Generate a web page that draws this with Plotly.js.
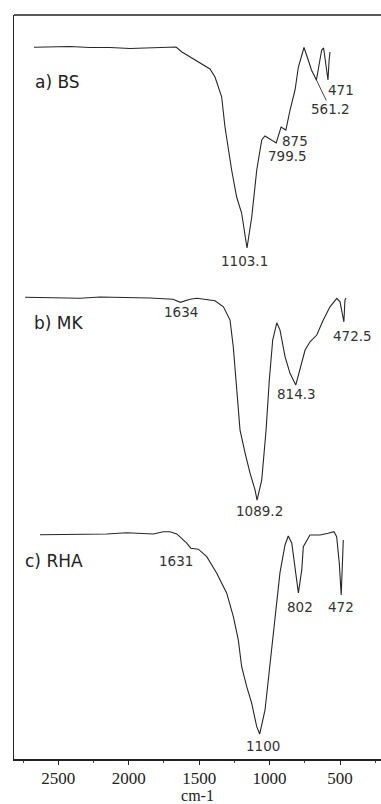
<!DOCTYPE html>
<html>
<head>
<meta charset="utf-8">
<script src="https://cdn.plot.ly/plotly-3.0.1.min.js"></script>
<style>
  html, body { margin: 0; padding: 0; background: #fff; overflow: hidden; }
  #chart { width: 381px; height: 804px; }
</style>
</head>
<body>
<div id="chart"></div>
<script>
// FTIR transmittance spectra (wavenumber in cm-1, transmittance in %)
// a) BS
const bsWavenumber = [2766, 2641, 2485, 2329, 2173, 2016, 1899, 1782, 1704, 1657, 1611, 1509, 1431, 1392, 1353, 1301, 1275, 1223, 1184, 1145, 1103.1, 1066, 1027, 988, 963, 920, 875, 837, 799.5, 767, 728, 702, 658, 630, 600, 561.2, 540, 520, 505, 490, 471, 462, 455];
const bsT = [99.9, 100, 100.2, 99.8, 99.8, 99.4, 99.6, 99.6, 100, 100, 98, 94.8, 92.4, 91.2, 88, 80.1, 68, 50.8, 40, 33.6, 19.6, 32, 50.8, 62.8, 64.4, 63, 61.6, 68, 66.8, 74.8, 82.8, 92, 99.8, 95.6, 90.8, 86.8, 94, 98.8, 99.6, 94, 86.8, 94.8, 98];

// b) MK
const mkWavenumber = [2736, 2346, 2204, 2062, 1849, 1686, 1634, 1565, 1517, 1388, 1328, 1281, 1258, 1233, 1210, 1174, 1139, 1103, 1089.2, 1056, 1025, 1002, 978, 949, 926, 890, 855, 814.3, 784, 748, 713, 665, 619, 571, 523, 500, 472.5, 465, 458];
const mkT = [100, 99.6, 100.1, 100, 99.7, 99.2, 98, 99.2, 99.6, 98.6, 96.2, 90.9, 80.2, 62.9, 46.9, 37.7, 29.7, 22.9, 18.9, 26.9, 46.9, 66.9, 82.9, 89.8, 86.9, 76.2, 69.6, 64.9, 70.9, 78.9, 82.2, 84.9, 90.9, 96.2, 99.6, 98.2, 90.2, 98.9, 99.7];

// c) RHA
const rhaWavenumber = [2793, 2279, 2125, 1920, 1843, 1791, 1739, 1662, 1631, 1573, 1508, 1431, 1354, 1303, 1265, 1239, 1200, 1162, 1123, 1100, 1059, 1021, 982, 944, 905, 880, 853, 828, 802, 776, 764, 713, 636, 572, 528, 507, 487, 472, 456];
const rhaT = [100, 100.3, 100.8, 100.3, 101.2, 101.2, 100.3, 96.6, 94.6, 94.2, 91.2, 84.6, 76.6, 67.2, 57.9, 47.2, 39.2, 32.6, 23.2, 20.3, 29.9, 48.7, 68.7, 84.7, 95.9, 99.5, 96.7, 85.9, 76.7, 85.9, 95.2, 99.9, 99.9, 100.6, 101.2, 99.2, 88.7, 75.9, 97.9];

// Panel names and band labels
const panelNames = ['a) BS', 'b) MK', 'c) RHA'];
const bsBands = ['1103.1', '875', '799.5', '561.2', '471'];
const mkBands = ['1634', '1089.2', '814.3', '472.5'];
const rhaBands = ['1631', '1100', '802', '472'];

const lineStyle = { color: '#262626', width: 1.1 };
const valueAt = (xs, ys, x) => ys[xs.indexOf(x)];

const traces = [
  { x: bsWavenumber, y: bsT, xaxis: 'x2', yaxis: 'y2', type: 'scatter', mode: 'lines', line: lineStyle, hoverinfo: 'skip' },
  { x: mkWavenumber, y: mkT, xaxis: 'x', yaxis: 'y', type: 'scatter', mode: 'lines', line: lineStyle, hoverinfo: 'skip' },
  { x: rhaWavenumber, y: rhaT, xaxis: 'x3', yaxis: 'y3', type: 'scatter', mode: 'lines', line: lineStyle, hoverinfo: 'skip' }
];

const numFont = { family: 'DejaVu Sans, Arial, sans-serif', size: 13.5, color: '#333' };
const nameFont = { family: 'DejaVu Sans, Arial, sans-serif', size: 17, color: '#222' };

// band label placed relative to its band in the spectrum
function band(text, xs, ys, xr, yr, dx, dy) {
  const x = parseFloat(text);
  return { text, x, y: valueAt(xs, ys, x), xref: xr, yref: yr, showarrow: false,
           xshift: dx, yshift: dy, font: numFont, borderpad: 0 };
}

const annotations = [
  { text: panelNames[0], x: 2586, y: 86.2, xref: 'x2', yref: 'y2', showarrow: false, font: nameFont },
  { text: panelNames[1], x: 2500, y: 89.6, xref: 'x', yref: 'y', showarrow: false, font: nameFont },
  { text: panelNames[2], x: 2685, y: 89.5, xref: 'x3', yref: 'y3', showarrow: false, font: nameFont },

  band(bsBands[0], bsWavenumber, bsT, 'x2', 'y2', -3, -13),
  band(bsBands[1], bsWavenumber, bsT, 'x2', 'y2', 19, 2),
  band(bsBands[2], bsWavenumber, bsT, 'x2', 'y2', 2, -26),
  { text: bsBands[3], x: 561.2, y: valueAt(bsWavenumber, bsT, 561.2), xref: 'x2', yref: 'y2',
    showarrow: true, arrowhead: 0, arrowwidth: 1, arrowcolor: '#444', ax: 14, ay: 29, standoff: 0,
    font: numFont, borderpad: 0 },
  band(bsBands[4], bsWavenumber, bsT, 'x2', 'y2', 13, -10),

  band(mkBands[0], mkWavenumber, mkT, 'x', 'y', 1, -10),
  band(mkBands[1], mkWavenumber, mkT, 'x', 'y', 2, -11),
  band(mkBands[2], mkWavenumber, mkT, 'x', 'y', 1, -9),
  band(mkBands[3], mkWavenumber, mkT, 'x', 'y', 9, -14),

  band(rhaBands[0], rhaWavenumber, rhaT, 'x3', 'y3', -15, -13),
  band(rhaBands[1], rhaWavenumber, rhaT, 'x3', 'y3', 3, -12),
  band(rhaBands[2], rhaWavenumber, rhaT, 'x3', 'y3', 2, -14),
  band(rhaBands[3], rhaWavenumber, rhaT, 'x3', 'y3', 0, -12)
];

const layout = {
  width: 381,
  height: 804,
  margin: { l: 14, r: 0, t: 15, b: 45 },
  paper_bgcolor: '#fff',
  plot_bgcolor: '#fff',
  showlegend: false,
  xaxis: {
    range: [2815, 209], anchor: 'y',
    showgrid: false, zeroline: false,
    showline: true, linecolor: '#222', linewidth: 1.5,
    ticks: 'outside', ticklen: 4, tickwidth: 1, tickcolor: '#222',
    tick0: 0, dtick: 500, ticklabelstandoff: -1,
    minor: { dtick: 250, ticks: 'outside', ticklen: 2, tickwidth: 1, tickcolor: '#444', showgrid: false },
    tickfont: { family: 'Liberation Serif, Times New Roman, serif', size: 17, color: '#222' },
    title: { text: 'cm-1', standoff: 2, font: { family: 'Liberation Serif, Times New Roman, serif', size: 16, color: '#222' } }
  },
  yaxis: {
    range: [-84.68, 212.92], anchor: 'x',
    showgrid: false, zeroline: false, showticklabels: false, ticks: '',
    showline: true, linecolor: '#222', linewidth: 1.5
  },
  xaxis2: { range: [2922, 57], overlaying: 'x', anchor: 'y2', visible: false },
  yaxis2: { range: [-184.8, 112.8], overlaying: 'y', anchor: 'x2', visible: false },
  xaxis3: { range: [2993, 165.5], overlaying: 'x', anchor: 'y3', visible: false },
  yaxis3: { range: [10.28, 307.88], overlaying: 'y', anchor: 'x3', visible: false },
  shapes: [
    { type: 'line', xref: 'paper', yref: 'paper', x0: 0, x1: 1, y0: 1, y1: 1,
      line: { color: '#222', width: 1.5 } }
  ],
  annotations
};

Plotly.newPlot('chart', traces, layout, { staticPlot: true, displayModeBar: false });
</script>
</body>
</html>
